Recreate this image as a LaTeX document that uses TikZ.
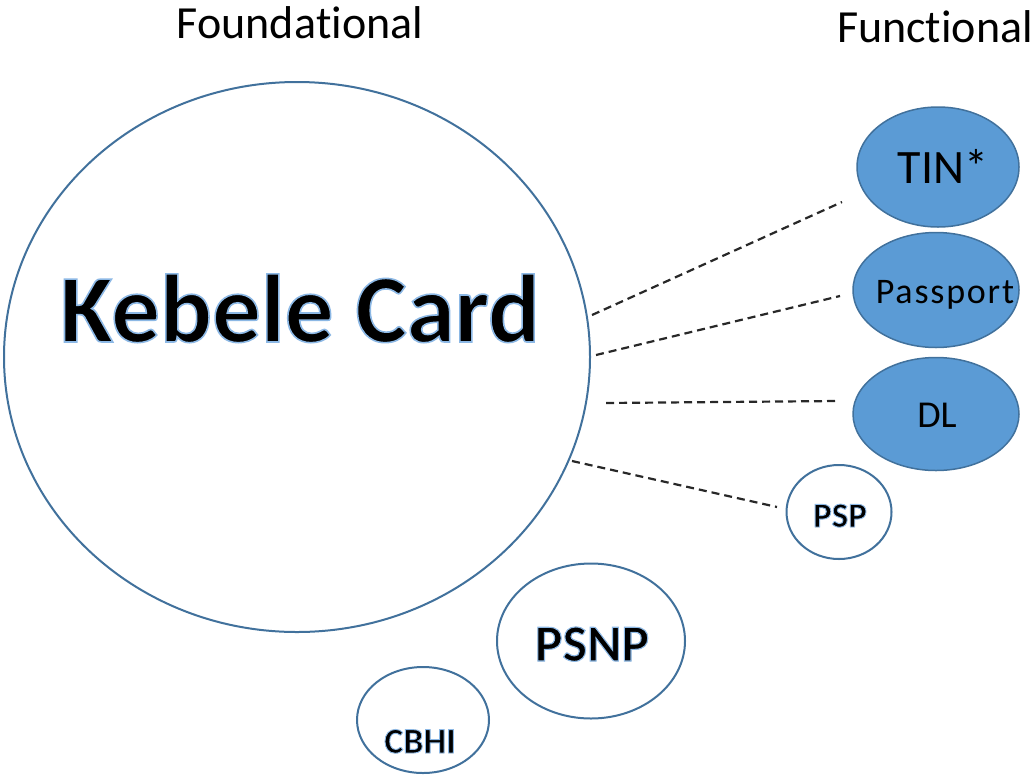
\documentclass[tikz,border=0pt]{standalone}
\usepackage{fontspec}
\setmainfont{Carlito}[RawFeature={-liga;-clig;-dlig}]
\usetikzlibrary{shapes.geometric}
\definecolor{edgeblue}{RGB}{65,113,156}
\definecolor{fillblue}{RGB}{91,155,213}
\definecolor{dashc}{RGB}{40,40,40}
% one copy of the text, filled black and stroked with a light blue halo
\newcommand\glowtxt[2]{\special{pdf:literal direct 2 Tr #1 w 0.55 0.72 0.90 RG}#2\special{pdf:literal direct 0 Tr}}
\tikzset{
  openov/.style={ellipse, draw=edgeblue, line width=2pt, fill=white, inner sep=0pt},
  fullov/.style={ellipse, draw=edgeblue, line width=1.5pt, fill=fillblue, inner sep=0pt},
  dashline/.style={draw=dashc, line width=2.2pt, dash pattern=on 8pt off 5pt},
  heading/.style={anchor=base, font=\fontsize{46}{50}\selectfont},
}
\begin{document}
\begin{tikzpicture}[x=1pt, y=-1pt]
\useasboundingbox (0,0) rectangle (1035,774);
% headings
\node[heading] (found) at (300,38) {Founda\kern0pt tional};
\node[heading] (func) at (935,42) {Func\kern0pt tional};
% main circle
\node[openov, minimum width=586pt, minimum height=550pt] (kebele) at (297,357) {};
\node[anchor=base, font=\fontsize{97}{100}\selectfont\bfseries] (kebtxt) at (300,342) {\glowtxt{1.6}{Kebele Card}};
% functional ellipses
\node[fullov, minimum width=162pt, minimum height=120pt] (tin) at (938,167) {};
\node[anchor=base, font=\fontsize{48}{50}\selectfont] (tintxt) at (943,183) {TIN*};
\node[fullov, minimum width=166pt, minimum height=115pt] (pass) at (936,290) {};
\node[anchor=base, font=\fontsize{36}{40}\selectfont] (passtxt) at (945,303) {\addfontfeature{LetterSpace=5}Passport};
\node[fullov, minimum width=166pt, minimum height=113pt] (dl) at (936,414) {};
\node[anchor=base, font=\fontsize{38}{40}\selectfont] (dltxt) at (937,427) {DL};
\node[openov, minimum width=105pt, minimum height=94pt] (psp) at (839,512) {};
\node[anchor=base, font=\fontsize{35}{40}\selectfont\bfseries] (psptxt) at (840,527) {\glowtxt{0.9}{PSP}};
\node[openov, minimum width=188pt, minimum height=155pt] (psnp) at (591,641) {};
\node[anchor=base, font=\fontsize{52}{56}\selectfont\bfseries] (psnptxt) at (592,661) {\glowtxt{1.1}{PSNP}};
\node[openov, minimum width=132pt, minimum height=106pt] (cbhi) at (423,720) {};
\node[anchor=base, font=\fontsize{36}{40}\selectfont\bfseries] (cbhitxt) at (420,753) {\glowtxt{0.9}{CBHI}};
% connector end points
\coordinate (k1) at (592,315);
\coordinate (t1) at (842,202);
\coordinate (k2) at (596,355);
\coordinate (p1) at (840,296);
\coordinate (k3) at (606,403);
\coordinate (d1) at (838,401);
\coordinate (k4) at (572,461);
\coordinate (s1) at (777,507);
\draw[dashline] (k1) -- (t1);
\draw[dashline] (k2) -- (p1);
\draw[dashline] (k3) -- (d1);
\draw[dashline] (k4) -- (s1);
\end{tikzpicture}
\end{document}
